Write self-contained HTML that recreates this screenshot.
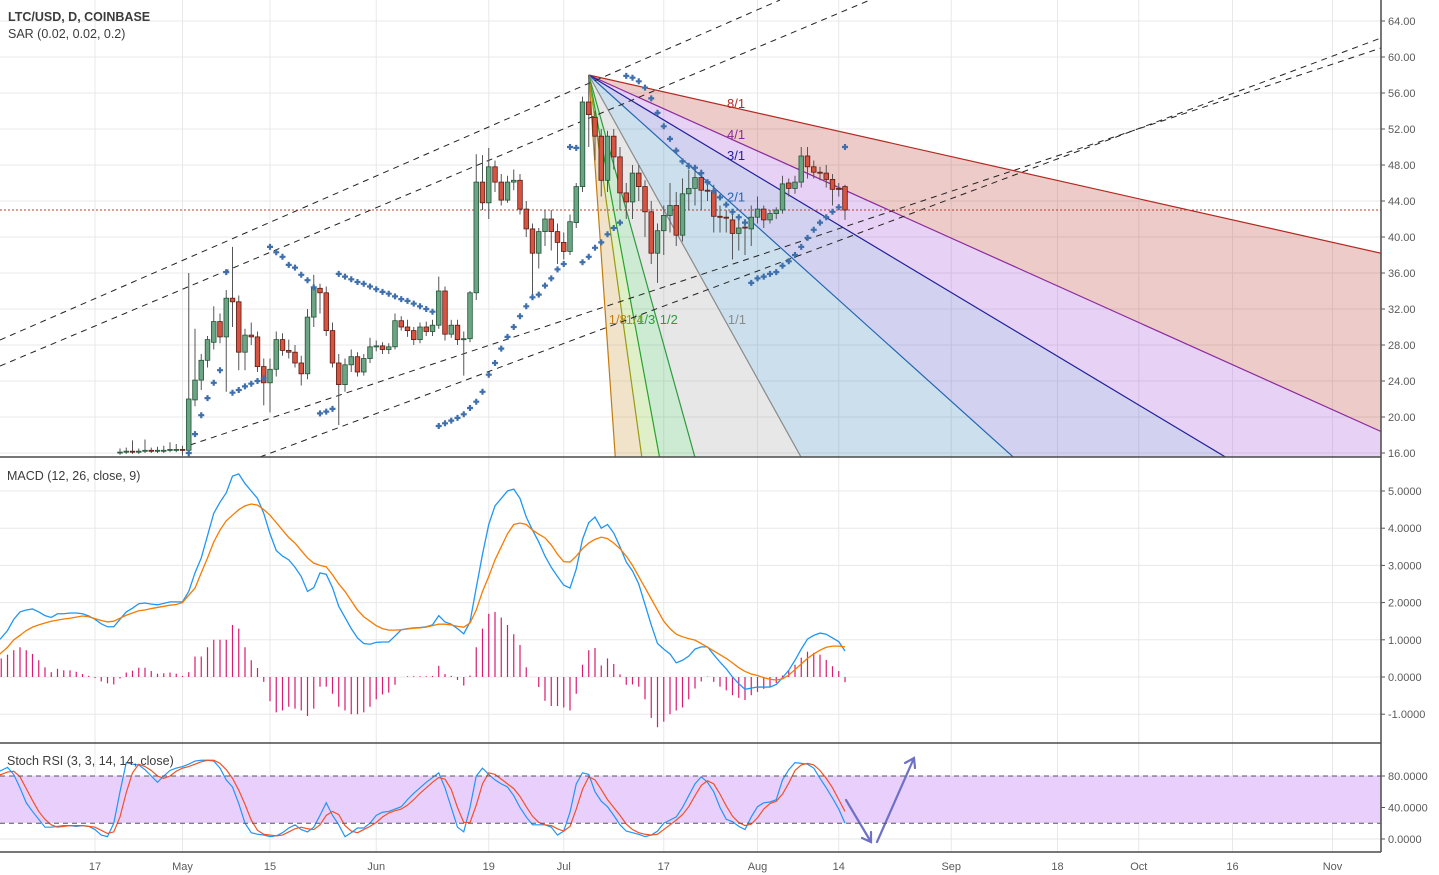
<!DOCTYPE html>
<html><head><meta charset="utf-8"><title>LTC/USD chart</title>
<style>
html,body{margin:0;padding:0;background:#fff;width:1439px;height:875px;overflow:hidden;}
svg{display:block;font-family:"Liberation Sans",sans-serif;overflow:hidden;}
.lbl{font-size:12.5px;fill:#3c3c3c;}
.ax{font-size:11px;fill:#5a5a5a;}
</style></head>
<body>
<svg id="chart" width="1439" height="875" viewBox="0 0 1439 875" xmlns="http://www.w3.org/2000/svg">
<defs>
<clipPath id="cp"><rect x="0" y="0" width="1381" height="457"/></clipPath>
<clipPath id="cm"><rect x="0" y="458" width="1381" height="285"/></clipPath>
<clipPath id="cs"><rect x="0" y="744" width="1381" height="108"/></clipPath>
</defs>
<rect x="0" y="0" width="1439" height="875" fill="#ffffff"/>
<g id="grid"></g>
<rect x="0" y="776" width="1381" height="47" fill="#e9d0fc"/>
<g id="fan" clip-path="url(#cp)"></g>
<g id="trend" clip-path="url(#cp)" stroke="#222" stroke-width="1" stroke-dasharray="6,5" fill="none">
<line x1="0" y1="340" x2="780" y2="0"/>
<line x1="0" y1="366" x2="870" y2="0"/>
<line x1="190" y1="445" x2="1381" y2="48"/>
<line x1="260" y1="457" x2="1381" y2="38"/>
</g>
<line x1="0" y1="210" x2="1381" y2="210" stroke="#c0392b" stroke-width="1" stroke-dasharray="2,2"/>
<g id="candles" clip-path="url(#cp)"></g>
<g id="sar" clip-path="url(#cp)"></g>
<g id="macd" clip-path="url(#cm)"></g>
<g id="stoch" clip-path="url(#cs)"></g>
<g stroke="#6e71c6" stroke-width="2.2" fill="none" stroke-linecap="round">
<path d="M846,800 L871,842 M862,838 L871,842 L871,832"/>
<path d="M877,842 L914,758 M905,763 L914,758 L915,768"/>
</g>
<g id="axes"></g>
<text class="lbl" x="8" y="21" font-weight="bold" fill="#444">LTC/USD, D, COINBASE</text>
<text class="lbl" x="8" y="38">SAR (0.02, 0.02, 0.2)</text>
<text class="lbl" x="7" y="480">MACD (12, 26, close, 9)</text>
<text class="lbl" x="7" y="765">Stoch RSI (3, 3, 14, 14, close)</text>
</svg>
<script>
// ---- data (day index: 0 = Apr 1) ----
const candleStartDay = 20;
const opens = [16.0,16.1,16.2,16.1,16.2,16.3,16.2,16.3,16.3,16.4,16.4,
16.3,21.9,24.1,26.3,28.3,30.6,28.9,33.2,32.8,27.2,29.1,28.9,25.6,23.8,25.3,28.6,27.4,27.2,26.0,24.8,31.1,34.3,33.8,29.6,26.0,23.6,25.8,26.7,25.0,26.5,27.8,27.9,27.5,27.8,30.7,30.0,29.6,28.6,30.0,29.5,30.2,34.0,29.2,30.2,28.6,28.7,33.8,46.1,43.8,47.8,46.1,44.1,46.1,46.3,43.1,40.9,38.2,40.6,42.0,40.6,39.4,38.4,41.6,45.6,55.0,53.3,51.2,46.3,51.2,48.9,44.9,43.9,47.1,45.6,42.8,38.2,40.7,42.4,43.5,40.2,44.8,45.4,46.6,45.2,45.1,42.3,42.2,41.9,40.4,41.1,40.9,42.2,43.1,41.9,42.6,43.0,46.0,45.4,46.1,49.0,47.8,47.2,47.1,46.4,45.4,45.6];
const highs = [16.5,16.6,17.4,16.5,17.5,16.6,16.7,16.8,17.2,17.0,16.8,
36.0,29.8,27.0,29.0,32.3,31.5,34.1,38.9,33.5,29.8,30.5,29.5,26.5,26.5,29.5,29.3,28.6,28.0,26.8,32.0,35.8,34.8,34.5,30.5,27.0,26.5,27.5,27.2,27.0,28.8,28.5,28.3,28.2,31.5,31.2,30.8,30.0,30.5,30.6,30.8,35.6,34.5,30.8,30.8,29.5,34.0,49.2,49.1,49.9,48.5,47.0,46.8,47.5,47.0,44.0,41.5,41.0,43.0,43.0,41.5,40.5,42.5,46.0,55.6,58.0,54.0,52.0,51.8,52.0,50.0,46.0,48.0,48.0,46.3,44.0,41.5,43.5,46.0,45.0,46.5,47.5,47.5,47.5,46.0,45.8,43.5,43.0,42.5,42.0,42.0,43.5,44.5,43.5,43.0,43.3,46.8,46.5,46.8,50.0,50.0,48.5,47.8,48.0,47.0,46.0,45.8];
const lows = [15.8,15.9,15.9,15.9,16.0,16.0,16.0,16.0,16.1,16.1,15.7,
15.6,21.2,23.0,25.5,27.5,28.2,22.8,30.0,25.2,25.2,28.0,25.0,21.3,20.5,24.5,26.8,26.5,25.5,23.5,24.2,30.0,31.5,29.0,25.5,19.1,22.8,25.0,24.5,24.6,26.0,27.3,27.0,27.0,27.5,29.6,28.9,28.0,28.2,29.0,29.0,29.8,28.5,28.8,28.0,24.6,28.3,33.0,43.0,42.0,45.0,43.5,43.8,45.2,42.5,40.0,33.6,36.5,39.0,38.5,37.0,37.5,38.0,41.0,45.0,50.0,48.5,44.5,45.0,47.5,43.0,42.0,42.0,44.0,40.0,37.0,34.9,38.0,40.5,39.0,39.5,43.0,43.5,43.0,44.0,40.5,40.5,40.5,37.5,38.5,38.0,39.0,41.5,41.0,41.5,42.0,42.6,44.5,44.8,45.5,46.5,46.5,46.3,45.5,43.5,44.5,41.9];
const closes = [16.1,16.2,16.1,16.2,16.3,16.2,16.3,16.3,16.4,16.4,16.3,
22.0,24.1,26.3,28.6,30.6,28.9,33.2,32.8,27.2,29.1,28.9,25.6,23.8,25.3,28.6,27.4,27.2,26.0,24.8,31.1,34.3,33.8,29.6,26.0,23.6,25.8,26.7,25.0,26.5,27.8,27.9,27.5,27.8,30.7,30.0,29.6,28.6,30.0,29.5,30.2,34.0,29.2,30.2,28.6,28.7,33.8,46.1,43.8,47.8,46.1,44.1,46.1,46.3,43.1,40.9,38.2,40.6,42.0,40.6,39.4,38.4,41.7,45.6,55.0,53.6,51.2,46.3,51.2,48.9,44.9,43.9,47.1,45.6,42.8,38.2,40.7,42.4,43.5,40.2,44.8,45.4,46.6,45.2,45.1,42.3,42.2,42.1,40.4,41.0,41.0,42.2,43.1,41.9,42.6,43.0,45.9,45.4,46.1,49.0,47.8,47.2,47.1,46.4,45.3,45.3,43.0];
const sarStartDay = 31;
const sarValues = [16.0,18.1,20.2,22.1,23.8,25.2,36.1,22.7,23.0,23.4,23.7,24.0,24.3,38.9,38.3,37.8,36.9,36.6,35.8,35.2,34.4,20.4,20.6,20.9,35.9,35.6,35.3,35.0,34.8,34.5,34.2,33.9,33.7,33.4,33.1,32.9,32.6,32.3,32.0,31.7,19.0,19.3,19.6,19.9,20.3,21.0,21.7,22.8,24.7,26.0,27.6,28.9,30.0,31.2,32.3,33.3,33.6,34.6,35.4,36.4,37.0,50.0,49.9,37.2,37.8,38.8,39.4,40.3,41.0,41.6,57.9,57.7,57.3,56.6,55.4,53.8,52.3,50.9,49.6,48.4,47.9,47.7,47.1,46.1,45.1,44.4,43.6,42.8,42.2,41.6,34.9,35.4,35.6,35.9,36.1,36.8,37.3,38.0,38.9,39.9,40.8,41.6,42.2,42.8,43.3,50.0];
const macdLine = [0.91,1.05,1.25,1.55,1.75,1.8,1.83,1.75,1.65,1.6,1.7,1.7,1.72,1.72,1.7,1.64,1.55,1.43,1.35,1.35,1.55,1.75,1.85,1.97,1.99,1.96,1.94,1.98,2.02,2.02,2.02,2.3,2.8,3.2,3.8,4.4,4.7,4.95,5.4,5.46,5.2,5.0,4.8,4.4,3.85,3.4,3.25,3.15,2.95,2.7,2.3,2.4,2.8,2.76,2.4,1.9,1.6,1.3,1.05,0.9,0.88,0.93,0.94,0.94,1.1,1.27,1.3,1.32,1.33,1.35,1.4,1.65,1.48,1.42,1.3,1.16,1.48,2.4,3.3,4.1,4.6,4.8,5.0,5.05,4.8,4.3,3.95,3.63,3.25,2.95,2.7,2.47,2.39,2.9,3.7,4.15,4.3,4.0,4.1,3.87,3.5,3.09,2.85,2.5,1.95,1.4,0.9,0.75,0.62,0.38,0.45,0.56,0.75,0.81,0.81,0.6,0.4,0.22,0.0,-0.18,-0.33,-0.3,-0.27,-0.27,-0.27,-0.2,-0.02,0.18,0.45,0.75,1.02,1.12,1.18,1.15,1.05,0.95,0.7];
const signalLine = [0.51,0.65,0.8,1.0,1.12,1.25,1.34,1.4,1.45,1.5,1.53,1.56,1.58,1.61,1.64,1.62,1.57,1.52,1.48,1.5,1.58,1.66,1.72,1.78,1.8,1.84,1.87,1.9,1.93,1.95,2.0,2.2,2.39,2.8,3.2,3.63,3.95,4.2,4.35,4.5,4.6,4.65,4.62,4.5,4.35,4.15,3.95,3.75,3.6,3.4,3.2,3.06,3.0,2.96,2.75,2.5,2.3,2.05,1.8,1.62,1.5,1.38,1.3,1.26,1.26,1.27,1.29,1.31,1.32,1.34,1.38,1.42,1.42,1.4,1.36,1.34,1.45,1.8,2.3,2.7,3.15,3.5,3.85,4.1,4.14,4.1,3.95,3.84,3.74,3.55,3.3,3.1,3.09,3.25,3.45,3.6,3.7,3.76,3.72,3.6,3.45,3.25,3.0,2.7,2.4,2.1,1.8,1.5,1.3,1.15,1.08,1.03,0.99,0.9,0.8,0.7,0.6,0.5,0.38,0.25,0.15,0.08,0.04,-0.02,-0.06,-0.08,-0.05,0.05,0.2,0.35,0.5,0.62,0.72,0.8,0.83,0.83,0.81];
const histValues = [0.5,0.5,0.6,0.72,0.8,0.72,0.62,0.45,0.26,0.13,0.22,0.18,0.18,0.14,0.08,0.03,-0.03,-0.12,-0.17,-0.2,-0.04,0.12,0.17,0.25,0.25,0.16,0.09,0.1,0.12,0.09,0.03,0.13,0.55,0.55,0.8,1.0,1.0,1.0,1.4,1.3,0.8,0.45,0.24,-0.13,-0.65,-0.95,-0.9,-0.8,-0.85,-0.9,-1.05,-0.85,-0.26,-0.26,-0.45,-0.8,-0.9,-1.0,-1.0,-0.95,-0.8,-0.6,-0.47,-0.42,-0.21,0.0,0.02,0.02,0.02,0.02,0.03,0.3,0.08,0.03,-0.08,-0.23,0.04,0.8,1.3,1.7,1.75,1.6,1.4,1.15,0.86,0.26,0.0,-0.27,-0.64,-0.78,-0.78,-0.82,-0.9,-0.45,0.33,0.72,0.78,0.31,0.5,0.35,0.07,-0.21,-0.2,-0.26,-0.6,-1.1,-1.35,-1.2,-1.0,-0.9,-0.82,-0.6,-0.31,-0.12,0.01,-0.13,-0.26,-0.36,-0.49,-0.56,-0.62,-0.49,-0.4,-0.32,-0.27,-0.16,0.04,0.17,0.33,0.52,0.68,0.65,0.6,0.46,0.29,0.16,-0.14];
const stochK = [84,87,91,82,65,46,35,25,15,15,16,17,17,16,17,16,12,5,3,20,60,97,95,94,88,80,72,80,87,90,92,95,99,100,100,99,90,75,66,45,20,8,6,5,3,4,8,14,18,12,9,15,30,46,30,18,3,8,14,14,20,30,34,35,38,41,50,58,65,72,78,84,65,40,15,9,40,80,90,82,75,70,66,55,40,28,18,18,18,15,5,10,34,70,84,82,60,48,41,30,18,10,8,6,3,5,10,20,24,28,40,55,70,79,72,60,40,25,22,16,12,28,41,46,47,50,75,88,97,96,95,90,77,65,52,38,20];
const stochD = [80,82,85,86,79,64,49,35,25,18,15,16,17,17,17,16,15,11,7,9,28,59,84,95,92,87,80,77,80,86,90,92,95,98,100,100,96,88,77,62,44,24,11,6,5,4,5,9,13,15,13,12,18,30,35,31,17,10,8,12,16,21,28,33,36,38,43,50,58,65,72,78,76,63,40,21,21,43,70,84,82,76,70,64,54,41,29,21,18,17,13,10,16,38,63,79,75,63,50,40,30,19,12,8,6,5,6,12,18,24,31,41,55,68,74,70,57,42,29,21,17,19,27,38,45,48,57,71,87,94,96,94,87,77,65,50,35];
const fanOriginDay = 95;
const fanOriginPrice = 58;
const fanUnit = 1.25; // price per day for 1/1
const fanRatios = [8,4,3,2,1,1/2,1/3,1/4,1/8];
const fanLabels = ['8/1','4/1','3/1','2/1','1/1','1/2','1/3','1/4','1/8'];
const priceTicks = [16,20,24,28,32,36,40,44,48,52,56,60,64];
const macdTicks = [-1,0,1,2,3,4,5];
const stochTicks = [0,40,80];
const timeTickDays = [16,30,44,61,79,91,107,122,135,153,170,183,198,214];
const timeTickLabels = ['17','May','15','Jun','19','Jul','17','Aug','14','Sep','18','Oct','16','Nov'];

// ---- axes ----
const NS = 'http://www.w3.org/2000/svg';
const xOf = d => 6.25 * d - 5;
const pY = p => 21 + (64 - p) * 9;
const mY = v => 677 - v * 37.2;
const sY = v => 839 - v * 0.7875;
function mk(tag, attrs, parent){const e=document.createElementNS(NS,tag);for(const k in attrs)e.setAttribute(k,attrs[k]);parent.appendChild(e);return e;}
const G = id => document.getElementById(id);

// grid
const grid = G('grid');
timeTickDays.forEach(d=>{
  const l = mk('line',{x1:xOf(d),x2:xOf(d),y1:0,y2:852,stroke:'#e8e8e8','stroke-width':1},grid);
  
  
});
priceTicks.forEach(p=>{
  const l = mk('line',{x1:0,x2:1381,y1:pY(p),y2:pY(p),stroke:'#e8e8e8','stroke-width':1},grid);
  
  
});
macdTicks.forEach(v=>{
  const l = mk('line',{x1:0,x2:1381,y1:mY(v),y2:mY(v),stroke:'#e8e8e8','stroke-width':1},grid);
  
  
});
stochTicks.forEach(v=>{
  const l = mk('line',{x1:0,x2:1381,y1:sY(v),y2:sY(v),stroke:v===40?'#d6bde8':'#e4e4e4','stroke-width':1},grid);
  
  
});
[80,20].forEach(v=>{
  const l = mk('line',{x1:0,x2:1381,y1:sY(v),y2:sY(v),stroke:'#555','stroke-width':1,'stroke-dasharray':'5,4'},grid.parentNode);
  
  
});

// gann fan
const fan = G('fan');
const fanColors = ['#b22a22','#8b2a9e','#20209a','#2466b0','#8a8a8a','#2f9a40','#27a12e','#9a9a14','#c27c0e'];
const fillColors = ['rgba(190,70,60,0.28)','rgba(160,70,210,0.25)','rgba(90,90,200,0.27)','rgba(70,140,190,0.28)','rgba(160,160,160,0.25)','rgba(70,180,90,0.27)','rgba(140,200,60,0.28)','rgba(210,170,90,0.33)'];
const ox = xOf(fanOriginDay), oy = pY(fanOriginPrice);
const farDay = fanOriginDay + 400;
const ends = fanRatios.map(r=>[xOf(farDay), pY(fanOriginPrice - fanUnit / r * (farDay - fanOriginDay))]);
for(let i=0;i<fanRatios.length-1;i++){
  const f = mk('polygon',{points:`${ox},${oy} ${ends[i][0]},${ends[i][1]} ${ends[i+1][0]},${ends[i+1][1]}`,fill:fillColors[i]},fan);
  
  
}
fanRatios.forEach((r,i)=>{
  const l = mk('line',{x1:ox,y1:oy,x2:ends[i][0],y2:ends[i][1],stroke:fanColors[i],'stroke-width':1.2},fan);
  
  
  let tx, ty;
  if(r>1){ const d = (727+5)/6.25; tx = 727; ty = pY(fanOriginPrice - fanUnit/r*(d-fanOriginDay)) + 2; }
  else { ty = 324; const p = 64-(ty-4-21)/9; const d = fanOriginDay + (fanOriginPrice-p)*r/fanUnit; tx = xOf(d)+3; }
  if(r===8){tx=727;ty=108;}
  const t = mk('text',{x:tx,y:ty,fill:fanColors[i],'font-size':'13px'},fan);
  t.textContent = fanLabels[i];
  
  
});

// candles
const cg = G('candles');
closes.forEach((c,i)=>{
  const d = candleStartDay + i, x = xOf(d), o = opens[i];
  const up = c >= o;
  const body = up ? '#6ba583' : '#d75442', edge = up ? '#225437' : '#5b1a13';
  const w = mk('line',{x1:x,x2:x,y1:pY(highs[i]),y2:pY(lows[i]),stroke:'#555','stroke-width':1},cg);
  
  
  const top = pY(Math.max(o,c)), h = Math.max(1, Math.abs(pY(o)-pY(c)));
  const b = mk('rect',{x:x-2.3,y:top,width:4.6,height:h,fill:body,stroke:edge,'stroke-width':0.8},cg);
  
  
});

// SAR
const sg = G('sar');
sarValues.forEach((v,i)=>{
  const x = xOf(sarStartDay+i), y = pY(v);
  const p = mk('path',{d:`M${x-3},${y}h6M${x},${y-3}v6`,stroke:'#3f70ad','stroke-width':2.2},sg);
  
  
});

// MACD
const mg = G('macd');
histValues.forEach((v,i)=>{
  const x = xOf(i);
  const h = mk('line',{x1:x,x2:x,y1:mY(0),y2:mY(v),stroke:'#d81b72','stroke-width':1.2},mg);
  
  
});
const ml = mk('polyline',{points:macdLine.map((v,i)=>xOf(i)+','+mY(v)).join(' '),fill:'none',stroke:'#2196f3','stroke-width':1.3},mg);


const sl = mk('polyline',{points:signalLine.map((v,i)=>xOf(i)+','+mY(v)).join(' '),fill:'none',stroke:'#f57c00','stroke-width':1.3},mg);



// Stoch
const stg = G('stoch');
const kl = mk('polyline',{points:stochK.map((v,i)=>xOf(i)+','+sY(v)).join(' '),fill:'none',stroke:'#2196f3','stroke-width':1.2},stg);


const dl = mk('polyline',{points:stochD.map((v,i)=>xOf(i)+','+sY(v)).join(' '),fill:'none',stroke:'#f0522a','stroke-width':1.2},stg);



// axes
const ag = G('axes');
[[0,457,1381,457],[0,743,1381,743],[0,852,1381,852],[1381,0,1381,852]].forEach(a=>{
  const l = mk('line',{x1:a[0],y1:a[1],x2:a[2],y2:a[3],stroke:'#4a4a4a','stroke-width':1.5},ag);
  
  
});
function yLabel(y,txt,name){
  const t = mk('line',{x1:1381,x2:1385,y1:y,y2:y,stroke:'#555'},ag);
  
  
  const e = mk('text',{x:1388,y:y+4,class:'ax'},ag);
  e.textContent = txt;
  
  
}
priceTicks.forEach(p=>yLabel(pY(p),p.toFixed(2),'price-tick-label'));
macdTicks.forEach(v=>yLabel(mY(v),v.toFixed(4),'macd-tick-label'));
[80,40,0].forEach(v=>yLabel(sY(v),v.toFixed(4),'stoch-tick-label'));
timeTickDays.forEach((d,i)=>{
  const e = mk('text',{x:xOf(d),y:870,class:'ax','text-anchor':'middle'},ag);
  e.textContent = timeTickLabels[i];
  
  
});
</script>
</body></html>
